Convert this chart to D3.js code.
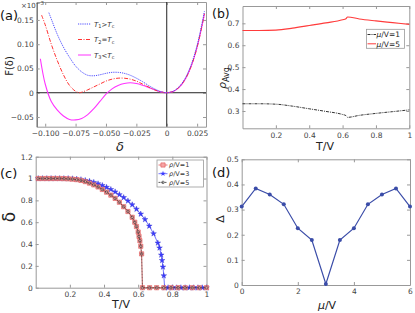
<!DOCTYPE html>
<html>
<head>
<meta charset="utf-8">
<script src="https://cdn.jsdelivr.net/npm/d3@7"></script>
<style>
  body { margin: 0; background: #fff; }
  text { font-family: "DejaVu Sans", sans-serif; }
</style>
</head>
<body>
<svg id="fig" width="415" height="313"></svg>
<script>
// ---- panel (a): free energy F(delta) ----
var aDeltaT1 = [-0.097,-0.095,-0.09,-0.085,-0.08,-0.075,-0.07,-0.065,-0.06,-0.055,-0.05,-0.045,-0.04,-0.035,-0.03,-0.025,-0.02,-0.015,-0.01,-0.005,0,0.005,0.01,0.015,0.02,0.025,0.03,0.031];
var aFT1 =     [0.165,0.152,0.120,0.094,0.073,0.055,0.043,0.036,0.035,0.037,0.040,0.042,0.042,0.040,0.036,0.030,0.023,0.015,0.008,0.0025,0,0.0027,0.012,0.029,0.057,0.098,0.155,0.168];
var aDeltaT2 = [-0.103,-0.1,-0.095,-0.09,-0.085,-0.08,-0.075,-0.072,-0.07,-0.065,-0.06,-0.055,-0.05,-0.045,-0.04,-0.035,-0.03,-0.025,-0.02,-0.015,-0.01,-0.005,0,0.005,0.01,0.015,0.02,0.025,0.03,0.031];
var aFT2 =     [0.160,0.140,0.100,0.066,0.037,0.015,0.003,0.0,0.001,0.006,0.012,0.018,0.024,0.028,0.030,0.030,0.028,0.024,0.018,0.012,0.006,0.0018,0,0.0024,0.011,0.027,0.054,0.094,0.150,0.163];
var aDeltaT3 = [-0.104,-0.1,-0.095,-0.09,-0.085,-0.08,-0.075,-0.07,-0.065,-0.06,-0.055,-0.05,-0.045,-0.04,-0.035,-0.03,-0.025,-0.02,-0.015,-0.01,-0.005,0,0.005,0.01,0.015,0.02,0.025,0.03,0.031];
var aFT3 =     [0.070,0.018,-0.018,-0.036,-0.048,-0.055,-0.056,-0.053,-0.045,-0.033,-0.018,-0.003,0.008,0.015,0.019,0.0205,0.019,0.0155,0.011,0.006,0.0018,0,0.0023,0.0105,0.027,0.054,0.094,0.150,0.163];
var aXTicks = [-0.1,-0.075,-0.05,-0.025,0,0.025];
var aYTicks = [-0.05,0,0.05,0.1,0.15];

// ---- panel (b): average density ----
var bT    = [0, 0.1, 0.2, 0.3, 0.4, 0.5, 0.6, 0.62, 0.63, 0.7, 0.8, 0.9, 1.0];
var bRho1 = [0.333,0.333,0.331,0.322,0.310,0.298,0.284,0.279,0.271,0.280,0.289,0.297,0.305];
var bRho5 = [0.667,0.667,0.669,0.678,0.690,0.702,0.716,0.721,0.729,0.720,0.711,0.703,0.695];
var bXTicks = [0.2,0.4,0.6,0.8,1];
var bYTicks = [0.3,0.4,0.5,0.6,0.7];

// ---- panel (c): order parameter vs T ----
var cT1 = [0.015,0.04,0.065,0.09,0.115,0.14,0.165,0.19,0.215,0.24,0.265,0.29,0.315,0.34,0.365,0.39,0.415,0.44,0.465,0.49,0.515,0.54,0.565,0.58,0.59,0.6,0.605,0.61,0.615,0.62,0.625,0.667,0.708,0.75,0.792,0.833,0.875,0.917,0.958,1.0];
var cDelta1 = [1,1,1,1,1,1,0.999,0.997,0.994,0.99,0.983,0.972,0.958,0.942,0.923,0.9,0.875,0.848,0.818,0.783,0.742,0.698,0.645,0.60,0.56,0.51,0.47,0.43,0.38,0.31,0,0,0,0,0,0,0,0,0,0];
var cT3 = [0.015,0.04,0.065,0.09,0.115,0.14,0.165,0.19,0.215,0.24,0.265,0.29,0.315,0.34,0.365,0.39,0.415,0.44,0.465,0.49,0.515,0.54,0.565,0.59,0.615,0.64,0.665,0.69,0.715,0.725,0.735,0.74,0.745,0.75,0.755,0.775,0.8,0.825,0.85,0.875,0.9,0.925,0.95,0.975,1.0];
var cDelta3 = [1,1,1,1,1,1,1,1,0.998,0.995,0.99,0.983,0.975,0.965,0.952,0.937,0.92,0.90,0.878,0.853,0.826,0.795,0.76,0.72,0.675,0.625,0.565,0.495,0.41,0.365,0.30,0.25,0.19,0.11,0,0,0,0,0,0,0,0,0,0,0];
var cT5 = cT1.slice();          // rho/V=5 sits on top of rho/V=1
var cDelta5 = cDelta1.slice();
var cXTicks = [0.2,0.4,0.6,0.8,1];
var cYTicks = [0,0.2,0.4,0.6,0.8,1,1.2];

// ---- panel (d): gap vs mu ----
var dMu  = [0,0.5,1,1.5,2,2.5,3,3.5,4,4.5,5,5.5,6];
var dGap = [0.312,0.384,0.36,0.321,0.226,0.179,0.004,0.179,0.226,0.321,0.36,0.384,0.312];
var dXTicks = [0,2,4,6];
var dYTicks = [0,0.1,0.2,0.3,0.4,0.5];

var svg = d3.select("#fig");
var frameColor = "#999", labelColor = "#444";

// box with inward ticks on all four sides (labels on left/bottom only)
function frame(x, y, xt, yt, xf, yf, fs) {
  var g = svg.append("g");
  var y0 = y.range()[0], y1 = y.range()[1], x0 = x.range()[0], x1 = x.range()[1];
  g.append("g").attr("transform", "translate(0," + y0 + ")")
    .call(d3.axisBottom(x).tickValues(xt).tickSizeInner(-3).tickSizeOuter(0).tickPadding(4).tickFormat(xf));
  g.append("g").attr("transform", "translate(0," + y1 + ")")
    .call(d3.axisTop(x).tickValues(xt).tickSizeInner(-3).tickSizeOuter(0).tickFormat(""));
  g.append("g").attr("transform", "translate(" + x0 + ",0)")
    .call(d3.axisLeft(y).tickValues(yt).tickSizeInner(-3).tickSizeOuter(0).tickPadding(3).tickFormat(yf));
  g.append("g").attr("transform", "translate(" + x1 + ",0)")
    .call(d3.axisRight(y).tickValues(yt).tickSizeInner(-3).tickSizeOuter(0).tickFormat(""));
  g.selectAll(".domain").attr("stroke", frameColor);
  g.selectAll(".tick line").attr("stroke", frameColor);
  g.selectAll("g").attr("font-family", "DejaVu Sans, sans-serif").attr("font-size", fs);
  g.selectAll(".tick text").attr("fill", labelColor);
  return g;
}

function zip(xs, ys) { return xs.map(function (v, i) { return [v, ys[i]]; }); }

// ================= (a) =================
var xa = d3.scaleLinear().domain([-0.107, 0.0323]).range([36.7, 206]);
var ya = d3.scaleLinear().domain([-0.07, 0.187]).range([126.7, 2]);
var fa = function (d) { return d === 0 ? "0" : d3.format(".3f")(d); };
var fay = function (d) { return d === 0 ? "0" : d3.format(".2f")(d); };
var ga = frame(xa, ya, aXTicks, aYTicks, fa, fay, 7.5);
ga.select("g:nth-child(3) .domain").attr("stroke", "#777").attr("stroke-width", 1.5);

svg.append("line").attr("x1", xa.range()[0]).attr("x2", xa.range()[1])
  .attr("y1", ya(0)).attr("y2", ya(0)).attr("stroke", "#222");
svg.append("line").attr("x1", xa(0)).attr("x2", xa(0))
  .attr("y1", ya.range()[0]).attr("y2", ya.range()[1]).attr("stroke", "#222");

var lineA = d3.line().x(function (d) { return xa(d[0]); }).y(function (d) { return ya(d[1]); })
  .curve(d3.curveCatmullRom);
svg.append("path").attr("d", lineA(zip(aDeltaT3, aFT3))).attr("fill", "none")
  .attr("stroke", "#ff33ff").attr("stroke-width", 1.1);
svg.append("path").attr("d", lineA(zip(aDeltaT2, aFT2))).attr("fill", "none")
  .attr("stroke", "#ff3333").attr("stroke-width", 1).attr("stroke-dasharray", "4,1.5,1,1.5");
svg.append("path").attr("d", lineA(zip(aDeltaT1, aFT1))).attr("fill", "none")
  .attr("stroke", "#4d4dff").attr("stroke-width", 1).attr("stroke-dasharray", "1.2,1");

var legA = [
  { sub: "1", op: ">", color: "#4d4dff", dash: "1.2,1" },
  { sub: "2", op: "=", color: "#ff3333", dash: "4,1.5,1,1.5" },
  { sub: "3", op: "<", color: "#ff33ff", dash: null }
];
legA.forEach(function (e, i) {
  var yy = 24 + i * 15.5;
  svg.append("line").attr("x1", 78).attr("x2", 91).attr("y1", yy).attr("y2", yy)
    .attr("stroke", e.color).attr("stroke-dasharray", e.dash);
  var t = svg.append("text").attr("x", 94).attr("y", yy + 2.5).style("font-size", "7px").attr("fill", "#333");
  t.append("tspan").attr("font-style", "italic").text("T");
  t.append("tspan").attr("dy", 1.5).style("font-size", "5px").text(e.sub);
  t.append("tspan").attr("dy", -1.5).text(e.op);
  t.append("tspan").attr("font-style", "italic").text("T");
  t.append("tspan").attr("dy", 1.5).style("font-size", "5px").text("c");
});

var sci = svg.append("text").attr("x", 21).attr("y", 8).style("font-size", "7px").attr("fill", labelColor);
sci.append("tspan").text("×10");
sci.append("tspan").attr("dy", -3).style("font-size", "5.5px").text("−3");

svg.append("text").attr("transform", "translate(13,66) rotate(-90)").attr("text-anchor", "middle")
  .style("font-size", "10px").attr("fill", "#222").text("F(δ)");
svg.append("text").attr("x", 120).attr("y", 151).attr("text-anchor", "middle")
  .style("font-size", "13px").style("font-style", "italic").attr("fill", "#222").text("δ");
svg.append("text").attr("x", 0).attr("y", 20).style("font-size", "13px").attr("fill", "#111").text("(a)");

// ================= (b) =================
var xb = d3.scaleLinear().domain([0, 1]).range([242.5, 409.3]);
var yb = d3.scaleLinear().domain([0.221, 0.779]).range([128.3, 6]);
var fb = function (d) { return d === 1 ? "1" : d3.format(".1f")(d); };
frame(xb, yb, bXTicks, bYTicks, fb, d3.format(".1f"), 7.5);

var lineB = d3.line().x(function (d) { return xb(d[0]); }).y(function (d) { return yb(d[1]); })
  .curve(d3.curveMonotoneX);
svg.append("path").attr("d", lineB(zip(bT, bRho5))).attr("fill", "none")
  .attr("stroke", "#ff3b3b").attr("stroke-width", 1.1);
svg.append("path").attr("d", lineB(zip(bT, bRho1))).attr("fill", "none")
  .attr("stroke", "#333").attr("stroke-width", 1).attr("stroke-dasharray", "3,1,1,1");

svg.append("rect").attr("x", 366.5).attr("y", 29.3).attr("width", 38).attr("height", 19)
  .attr("fill", "#fff").attr("stroke", frameColor).attr("stroke-width", 0.8);
[{ n: "1", c: "#333", dash: "3,1,1,1" }, { n: "5", c: "#ff3b3b", dash: null }].forEach(function (e, i) {
  var yy = 34.5 + i * 9.3;
  svg.append("line").attr("x1", 367.5).attr("x2", 376).attr("y1", yy).attr("y2", yy)
    .attr("stroke", e.c).attr("stroke-dasharray", e.dash);
  var t = svg.append("text").attr("x", 376.5).attr("y", yy + 2.7).style("font-size", "7.5px").attr("fill", "#222");
  t.append("tspan").attr("font-style", "italic").text("μ");
  t.append("tspan").text("/V=" + e.n);
});

var rl = svg.append("text").attr("transform", "translate(226,78) rotate(-90)").attr("text-anchor", "middle")
  .attr("fill", "#222");
rl.append("tspan").style("font-size", "11px").style("font-style", "italic").text("ρ");
rl.append("tspan").attr("dy", 3).style("font-size", "8px").text("Avg");
svg.append("text").attr("x", 325).attr("y", 150).attr("text-anchor", "middle")
  .style("font-size", "11px").attr("fill", "#222").text("T/V");
svg.append("text").attr("x", 212).attr("y", 18).style("font-size", "12.5px").attr("fill", "#111").text("(b)");

// ================= (c) =================
var xc = d3.scaleLinear().domain([0, 1]).range([35.7, 206.5]);
var yc = d3.scaleLinear().domain([0, 1.2]).range([287.7, 156.7]);
var fc = function (d) { return d3.format("~g")(d); };
frame(xc, yc, cXTicks, cYTicks, fc, fc, 7.5);

var lineC = d3.line().x(function (d) { return xc(d[0]); }).y(function (d) { return yc(d[1]); });
var sq = d3.symbol().type(d3.symbolSquare).size(18);
var star = d3.symbol().type(d3.symbolStar).size(10);

svg.append("path").attr("d", lineC(zip(cT3, cDelta3))).attr("fill", "none")
  .attr("stroke", "#4d4dff").attr("stroke-width", 0.8);
svg.append("path").attr("d", lineC(zip(cT1, cDelta1))).attr("fill", "none")
  .attr("stroke", "#e05050").attr("stroke-width", 0.8);

svg.append("g").selectAll("path").data(zip(cT3, cDelta3)).enter().append("path")
  .attr("transform", function (d) { return "translate(" + xc(d[0]) + "," + yc(d[1]) + ")"; })
  .attr("d", star).attr("fill", "#3c3cff").attr("stroke", "#3030d0").attr("stroke-width", 0.4);
svg.append("g").selectAll("path").data(zip(cT1, cDelta1)).enter().append("path")
  .attr("transform", function (d) { return "translate(" + xc(d[0]) + "," + yc(d[1]) + ")"; })
  .attr("d", sq).attr("fill", "#f6a5a5").attr("stroke", "#e05555").attr("stroke-width", 0.6);

svg.append("path").attr("d", lineC(zip(cT5, cDelta5))).attr("fill", "none")
  .attr("stroke", "#333").attr("stroke-width", 0.6).attr("stroke-dasharray", "2,1");
svg.append("g").selectAll("circle").data(zip(cT5, cDelta5)).enter().append("circle")
  .attr("cx", function (d) { return xc(d[0]); }).attr("cy", function (d) { return yc(d[1]); })
  .attr("r", 1.3).attr("fill", "none").attr("stroke", "#333").attr("stroke-width", 0.6);

svg.append("rect").attr("x", 157).attr("y", 160).attr("width", 46.5).attr("height", 27)
  .attr("fill", "#fff").attr("stroke", frameColor).attr("stroke-width", 0.8);
[{ n: "1", k: "sq" }, { n: "3", k: "star" }, { n: "5", k: "circ" }].forEach(function (e, i) {
  var yy = 165 + i * 8.7, mx = 163;
  var ln = svg.append("line").attr("x1", 158.5).attr("x2", 167.5).attr("y1", yy).attr("y2", yy)
    .attr("stroke-width", 0.8);
  if (e.k === "sq") {
    ln.attr("stroke", "#e05050");
    svg.append("path").attr("transform", "translate(" + mx + "," + yy + ")").attr("d", sq)
      .attr("fill", "#f6a5a5").attr("stroke", "#e05555").attr("stroke-width", 0.6);
  } else if (e.k === "star") {
    ln.attr("stroke", "#4d4dff");
    svg.append("path").attr("transform", "translate(" + mx + "," + yy + ")").attr("d", star)
      .attr("fill", "#3c3cff");
  } else {
    ln.attr("stroke", "#333").attr("stroke-dasharray", "2,1");
    svg.append("circle").attr("cx", mx).attr("cy", yy).attr("r", 1.3)
      .attr("fill", "none").attr("stroke", "#333").attr("stroke-width", 0.6);
  }
  var t = svg.append("text").attr("x", 169).attr("y", yy + 2.3).style("font-size", "6.5px").attr("fill", "#333");
  t.append("tspan").attr("font-style", "italic").text("ρ");
  t.append("tspan").text("/V=" + e.n);
});

svg.append("text").attr("transform", "translate(15,217) rotate(-90)").attr("text-anchor", "middle")
  .style("font-size", "17px").attr("fill", "#222").text("δ");
svg.append("text").attr("x", 121).attr("y", 308).attr("text-anchor", "middle")
  .style("font-size", "11px").attr("fill", "#222").text("T/V");
svg.append("text").attr("x", 0).attr("y", 178).style("font-size", "13px").attr("fill", "#111").text("(c)");

// ================= (d) =================
var xd = d3.scaleLinear().domain([0, 6]).range([241.7, 410]);
var yd = d3.scaleLinear().domain([0, 0.5]).range([285, 159.3]);
frame(xd, yd, dXTicks, dYTicks, d3.format("~g"), d3.format("~g"), 7.5);

var lineD = d3.line().x(function (d) { return xd(d[0]); }).y(function (d) { return yd(d[1]); });
svg.append("path").attr("d", lineD(zip(dMu, dGap))).attr("fill", "none")
  .attr("stroke", "#3a4ca8").attr("stroke-width", 1.2);
svg.append("g").selectAll("circle").data(zip(dMu, dGap)).enter().append("circle")
  .attr("cx", function (d) { return xd(d[0]); }).attr("cy", function (d) { return yd(d[1]); })
  .attr("r", 2).attr("fill", "#3a4ca8");

svg.append("text").attr("transform", "translate(224,219) rotate(-90)").attr("text-anchor", "middle")
  .style("font-size", "11px").attr("fill", "#222").text("Δ");
var ml = svg.append("text").attr("x", 327).attr("y", 309).attr("text-anchor", "middle")
  .style("font-size", "11px").attr("fill", "#222");
ml.append("tspan").attr("font-style", "italic").text("μ");
ml.append("tspan").text("/V");
svg.append("text").attr("x", 212).attr("y", 177).style("font-size", "13px").attr("fill", "#111").text("(d)");
</script>
</body>
</html>
